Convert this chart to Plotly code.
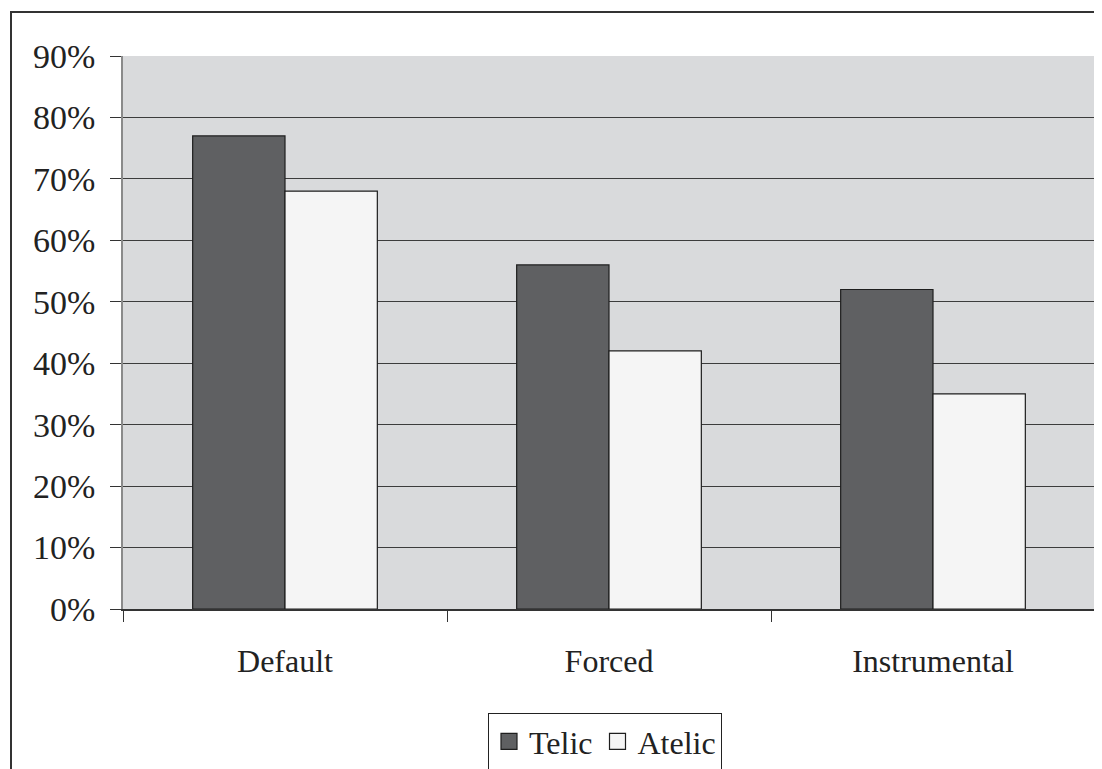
import plotly.graph_objects as go

categories = ["Default", "Forced", "Instrumental"]
telic = [0.77, 0.56, 0.52]
atelic = [0.68, 0.42, 0.35]
series_names = ["Telic", "Atelic"]
series_colors = ["#5f6062", "#f5f5f5"]
y_ticks = [0, 0.1, 0.2, 0.3, 0.4, 0.5, 0.6, 0.7, 0.8, 0.9]

FONT = "Liberation Serif, Times New Roman, serif"
OUTLINE = "#1e1e1e"

fig = go.Figure()
for name, vals, col in zip(series_names, [telic, atelic], series_colors):
    fig.add_trace(go.Bar(name=name, x=categories, y=vals, showlegend=False,
                         marker=dict(color=col, line=dict(color=OUTLINE, width=1.2))))
# legend entries with larger square swatches
for name, col in zip(series_names, series_colors):
    fig.add_trace(go.Scatter(name=name, x=[None], y=[None], mode="markers",
                             marker=dict(symbol="square", size=19, color=col,
                                         line=dict(color=OUTLINE, width=1.2))))

OFF = 8  # page body margin
W, H = 1102 - OFF, 769 - OFF
L = 123 - OFF
T = 56 - OFF
R = W - (1095 - OFF)
B = H - (609 - OFF)
pw, ph = W - L - R, H - T - B

def px(x):
    return (x - OFF - L) / pw

def py(y):
    return (H - B - (y - OFF)) / ph

fig.update_layout(
    width=W, height=H,
    margin=dict(l=L, r=R, t=T, b=B, autoexpand=False),
    paper_bgcolor="white",
    plot_bgcolor="#d9dadc",
    barmode="group",
    bargap=0.43,
    bargroupgap=0,
    font=dict(family=FONT, size=32, color="#222222"),
    showlegend=True,
    legend=dict(orientation="h", x=px(605), xanchor="center", y=py(713), yanchor="top",
                bordercolor="#222222", borderwidth=1, bgcolor="white",
                font=dict(family=FONT, size=32, color="#222222"),
                itemwidth=30, tracegroupgap=0),
    shapes=[
        dict(type="path", xref="paper", yref="paper",
             path=f"M {px(11)} {py(800)} L {px(11)} {py(12)} L {px(1100)} {py(12)}",
             line=dict(color="#333333", width=2)),
    ],
)

fig.update_xaxes(
    showgrid=False,
    ticks="outside", tickson="boundaries", ticklen=11, tickcolor="#333333", tickwidth=1,
    showline=True, linecolor="#333333", linewidth=1.5, mirror=False,
    ticklabelstandoff=23,
    tickfont=dict(family=FONT, size=32, color="#222222"),
)
fig.update_yaxes(
    range=[0, 0.9], tickvals=y_ticks, tickformat=".0%",
    showgrid=True, gridcolor="#3c3c3c", gridwidth=1,
    ticks="outside", ticklen=11, tickcolor="#333333", tickwidth=1,
    showline=True, linecolor="#8a8a8a", linewidth=1.5, mirror=True,
    zeroline=False,
    ticklabelstandoff=8,
    tickfont=dict(family=FONT, size=34, color="#222222"),
)

fig.write_html("out.html")
